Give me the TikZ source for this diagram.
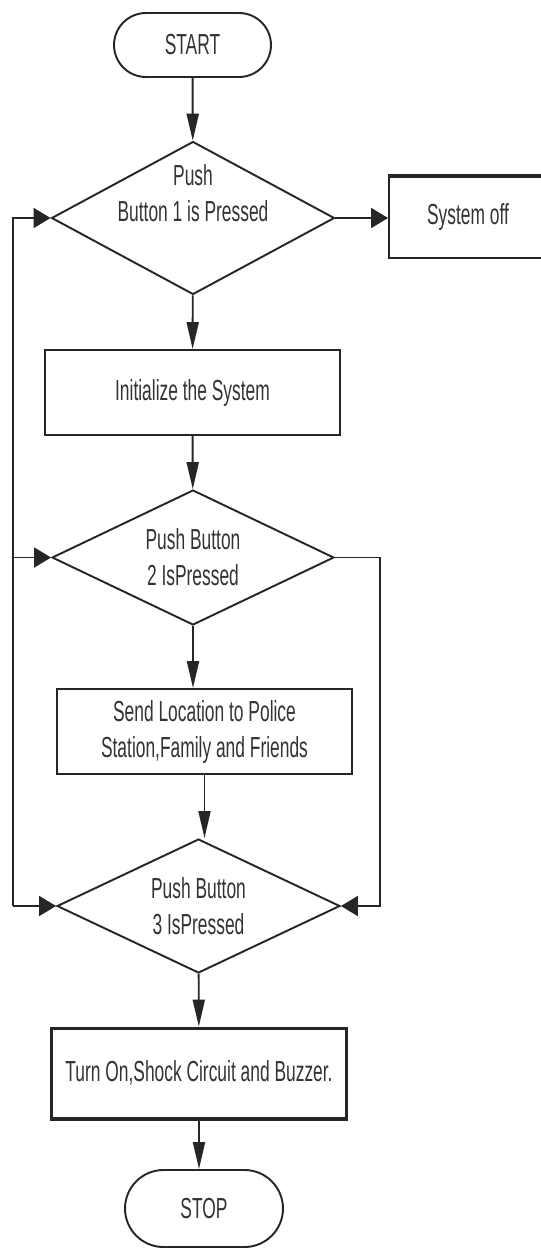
\documentclass[tikz,border=0pt]{standalone}
\usepackage{fontspec}
\setmainfont{Liberation Sans}[FakeStretch=0.6]
\usepackage{tikz}
\usetikzlibrary{shapes.geometric,shapes.misc,arrows.meta,positioning}

\tikzset{
    base/.style={draw=black!85, line width=1.1pt, text=black!80,
        font=\fontsize{16.5}{20.5}\selectfont, align=center, inner sep=0pt},
    terminal/.style={base, rounded rectangle},
    process/.style={base, rectangle},
    decision/.style={base, diamond, aspect=2},
    plain/.style={inner sep=0pt, text=black!80,
        font=\fontsize{16.5}{20.5}\selectfont, align=center},
    down/.style={draw=black!85, line width=1.1pt, -{Triangle[length=0.54cm,width=0.24cm]}},
    side/.style={draw=black!85, line width=1.1pt, -{Triangle[length=0.34cm,width=0.4cm]}},
}

\begin{document}
\begin{tikzpicture}[x=0.02cm, y=-0.02cm]
        \useasboundingbox (0,0) rectangle (541,1249);

        \node[terminal, minimum width=3.14cm, minimum height=1.28cm] (start) at (192.5,45) {START};
        \node[decision, minimum width=5.66cm, minimum height=3.06cm] (d1) at (193,218) {};
        \node[plain] (d1text) at (193,193) {Push\\Button 1 is Pressed};
        \node[process, minimum width=3.16cm, minimum height=1.62cm] (off) at (468,217.5) {System off};
        \node[process, minimum width=5.9cm, minimum height=1.7cm] (init) at (192.5,392.5) {Initialize the System};
        \node[decision, minimum width=5.64cm, minimum height=2.7cm] (d2) at (193,557.5) {Push Button\\2 IsPressed};
        \node[process, minimum width=5.9cm, minimum height=1.7cm] (send) at (204.5,731.5) {Send Location to Police\\Station,Family and Friends};
        \node[decision, minimum width=5.66cm, minimum height=2.68cm] (d3) at (198.5,906) {Push Button\\3 IsPressed};
        \node[process, line width=1.7pt, minimum width=5.92cm, minimum height=1.8cm] (turnon) at (199,1073) {Turn On,Shock Circuit and Buzzer.};
        \node[terminal, minimum width=3.16cm, minimum height=1.54cm] (stop) at (204,1208.5) {STOP};

        \draw[black!85, line width=2.2pt] (off.north west) -- (off.north east);
        \draw[black!85, line width=2.2pt] (turnon.south west) -- (turnon.south east);

        \coordinate (loopL) at (13,0);
        \coordinate (loopR) at (380,0);

        \draw[down] (start) -- (d1);
        \draw[side] (d1.east) -- (off.west |- d1.east);
        \draw[down] (d1) -- (init);
        \draw[down] (init) -- (d2);
        \draw[down] (d2.south) -- (d2.south |- send.north);
        \draw[down] (send.south) -- (send.south |- d3.north);
        \draw[down] (d3) -- (turnon);
        \draw[down] (turnon.south) -- (turnon.south |- stop.north);

        \draw[side] (loopL |- d3.west) |- (d1.west);
        \draw[side] (loopL |- d2.west) -- (d2.west);
        \draw[side] (loopL |- d3.west) -- (d3.west);
        \draw[side] (d2.east) -| (loopR |- d3.east) -- (d3.east);
    \end{tikzpicture}
\end{document}
